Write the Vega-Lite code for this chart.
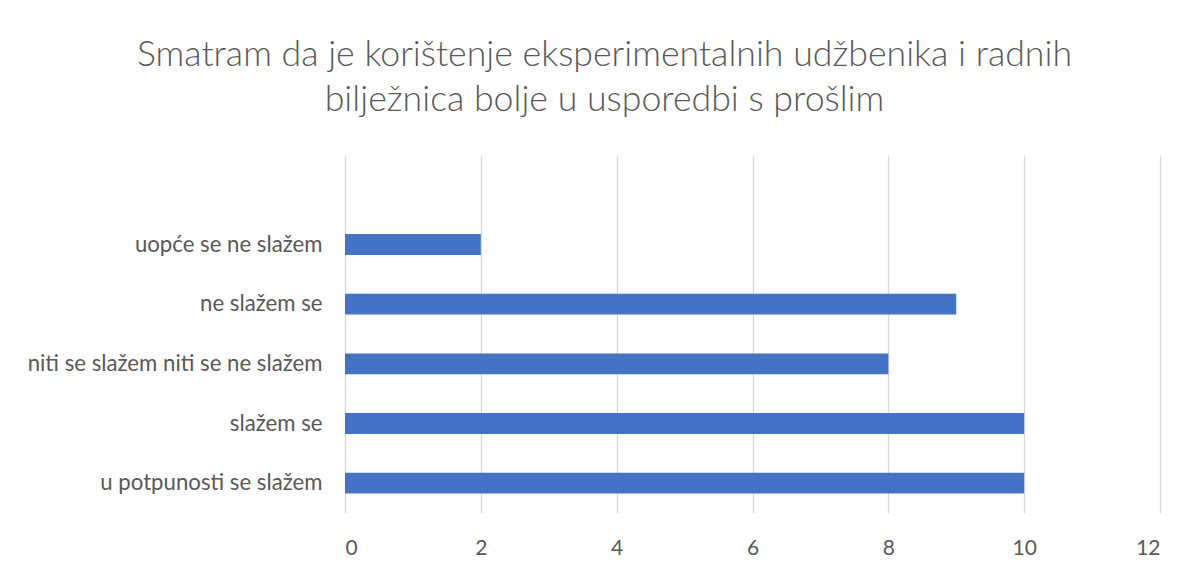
{
  "$schema": "https://vega.github.io/schema/vega-lite/v6.json",
  "width": 815,
  "height": 358,
  "autosize": {"type": "none"},
  "padding": {"left": 345, "top": 155, "right": 30, "bottom": 55},
  "background": "white",
  "title": {
    "text": ["Smatram da je korištenje eksperimentalnih udžbenika i radnih", "bilježnica bolje u usporedbi s prošlim"],
    "font": "Lato",
    "fontSize": 35.7,
    "fontWeight": 300,
    "color": "#595959",
    "anchor": "middle",
    "dx": -148,
    "offset": 36,
    "lineHeight": 45
  },
  "data": {
    "values": [
      {"odgovor": "uopće se ne slažem", "broj": 2},
      {"odgovor": "ne slažem se", "broj": 9},
      {"odgovor": "niti se slažem niti se ne slažem", "broj": 8},
      {"odgovor": "slažem se", "broj": 10},
      {"odgovor": "u potpunosti se slažem", "broj": 10}
    ]
  },
  "mark": {"type": "bar", "color": "#4472C4"},
  "encoding": {
    "y": {
      "field": "odgovor",
      "type": "nominal",
      "scale": {
        "domain": ["", "uopće se ne slažem", "ne slažem se", "niti se slažem niti se ne slažem", "slažem se", "u potpunosti se slažem"],
        "paddingInner": 0.65,
        "paddingOuter": 0.325
      },
      "axis": {
        "title": null,
        "domain": false,
        "ticks": false,
        "labelPadding": 23,
        "labelFont": "Lato",
        "labelFontSize": 22.2,
        "labelColor": "#595959",
        "labelLimit": 400
      }
    },
    "x": {
      "field": "broj",
      "type": "quantitative",
      "scale": {"domain": [0, 12], "nice": false},
      "axis": {
        "title": null,
        "values": [0, 2, 4, 6, 8, 10, 12],
        "domain": false,
        "ticks": false,
        "grid": true,
        "gridColor": "#D9D9D9",
        "gridWidth": 1.3,
        "labelPadding": 24,
        "labelFont": "Lato",
        "labelFontSize": 21,
        "labelColor": "#595959"
      }
    }
  },
  "config": {"view": {"stroke": null}}
}
